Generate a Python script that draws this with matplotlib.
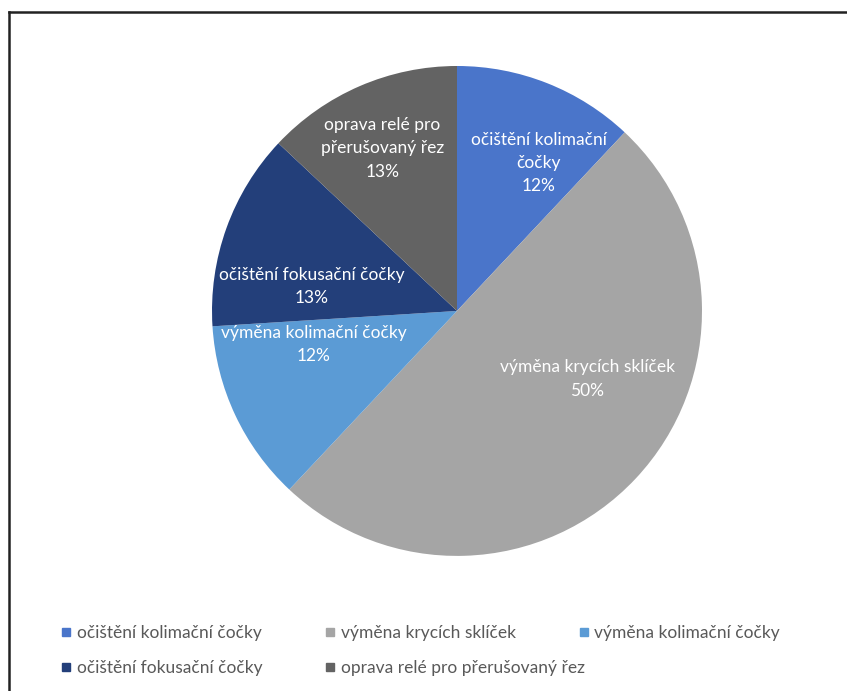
import numpy as np
import matplotlib
matplotlib.use("Agg")
import matplotlib.pyplot as plt
from matplotlib.lines import Line2D

plt.rcParams['font.family'] = ['Lato', 'DejaVu Sans']

# data
categories = ["očištění kolimační čočky", "výměna krycích sklíček", "výměna kolimační čočky",
              "očištění fokusační čočky", "oprava relé pro přerušovaný řez"]
shares = [12, 50, 12, 13, 13]
# wrapped labels as shown inside the slices
slice_labels = ["očištění kolimační\nčočky", "výměna krycích sklíček", "výměna kolimační čočky",
                "očištění fokusační čočky", "oprava relé pro\npřerušovaný řez"]
colors = ["#4A75CA", "#A5A5A5", "#5B9BD5", "#233F7A", "#636363"]

# label placement (fraction of radius, angle in degrees) - tuned to look like excel best fit
lab_r = [0.69, 0.60, 0.60, 0.60, 0.73]
lab_ang = [61, -27.6, -166.7, 170.5, 114.6]

fig = plt.figure(figsize=(8.47, 6.91), dpi=100)
ax = fig.add_axes([0.2503, 0.1955, 0.5785, 0.709])
wedges, _ = ax.pie(shares, colors=colors, startangle=90, counterclock=False,
                   wedgeprops=dict(linewidth=0))
ax.set_xlim(-1, 1)
ax.set_ylim(-1, 1)
ax.set_aspect('auto')
ax.axis('off')

for i in range(len(shares)):
    a = np.deg2rad(lab_ang[i])
    ax.text(lab_r[i] * np.cos(a), lab_r[i] * np.sin(a),
            slice_labels[i] + "\n" + str(shares[i]) + "%",
            ha='center', va='center', color='white', fontsize=12.5, linespacing=1.55)

# legend, excel style: fixed column positions
cols = [[0, 3], [1, 4], [2]]
col_x = [0.072, 0.384, 0.683]
for c, idx in enumerate(cols):
    handles = [Line2D([], [], marker='s', ls='', markersize=6, color=colors[i]) for i in idx]
    lg = fig.legend(handles, [categories[i] for i in idx], loc='upper left',
                    bbox_to_anchor=(col_x[c], 0.095), frameon=False, fontsize=12.5,
                    handlelength=0.6, handletextpad=0.3, labelspacing=1.1,
                    borderpad=0, borderaxespad=0, labelcolor='#595959')

# chart frame (cut off at right and bottom)
fig.add_artist(Line2D([0.0106, 0.0106], [0, 0.982], color='#222222', lw=1.8))
fig.add_artist(Line2D([0.0106, 1.0], [0.982, 0.982], color='#222222', lw=1.8))

fig.savefig("out.png", dpi=100)
